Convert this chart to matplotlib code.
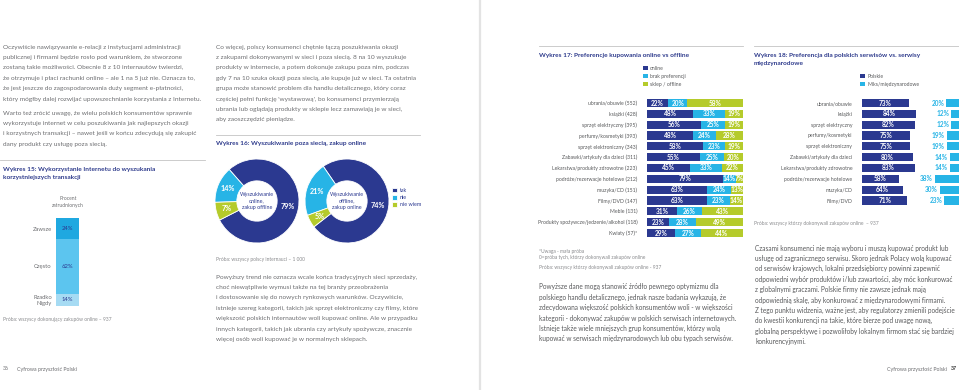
import numpy as np
import matplotlib
matplotlib.use("Agg")
import matplotlib.pyplot as plt

plt.rcParams['font.family'] = ['Lato', 'DejaVu Sans']

W, H = 959, 390
NAVY = "#2b3990"
CYAN = "#27b4e6"
GREEN = "#b5cb2b"
GREY = "#6d6e71"
TITLE = "#2e3b8c"

# ---- Wykres 15
w15_labels = ["Zawsze", "Często", "Rzadko\nNigdy"]
w15_values = [24, 62, 14]
w15_colors = ["#1fa8e0", "#5cc5ef", "#a6dbf3"]

# ---- Wykres 16
w16_labels = ["tak", "nie", "nie wiem"]
w16_online_offline = [79, 14, 7]
w16_offline_online = [74, 21, 5]

# ---- Wykres 17
w17_categories = [
    "ubrania/obuwie (552)", "książki (428)", "sprzęt elektryczny (395)",
    "perfumy/kosmetyki (393)", "sprzęt elektroniczny (343)",
    "Zabawki/artykuły dla dzieci (311)", "Lekarstwa/produkty zdrowotne (223)",
    "podróże/rezerwacje hotelowe (212)", "muzyka/CD (151)", "Filmy/DVD (147)",
    "Meble (131)", "Produkty spożywcze/jedzenie/alkohol (118)", "Kwiaty (57)*",
]
w17_online = [22, 48, 56, 48, 58, 55, 45, 79, 63, 63, 31, 23, 29]
w17_brak = [20, 33, 25, 24, 23, 25, 33, 14, 24, 23, 26, 28, 27]
w17_sklep = [58, 19, 19, 28, 19, 20, 22, 7, 13, 14, 43, 49, 44]
w17_series = ["online", "brak preferencji", "sklep / offline"]

# ---- Wykres 18
w18_categories = [
    "ubrania/obuwie", "książki", "sprzęt elektryczny", "perfumy/kosmetyki",
    "sprzęt elektroniczny", "Zabawki/artykuły dla dzieci",
    "Lekarstwa/produkty zdrowotne", "podróże/rezerwacje hotelowe",
    "muzyka/CD", "Filmy/DVD",
]
w18_polskie = [73, 84, 82, 75, 75, 80, 83, 58, 64, 71]
w18_miks = [20, 12, 12, 19, 19, 14, 14, 38, 30, 23]
w18_series = ["Polskie", "Miks/międzynarodowe"]

# ---- body text
col1_a = [
    "Oczywiście nawiązywanie e-relacji z instytucjami administracji",
    "publicznej i firmami będzie rosło pod warunkiem, że stworzone",
    "zostaną takie możliwości. Obecnie 8 z 10 internautów twierdzi,",
    "że otrzymuje i płaci rachunki online – ale 1 na 5 już nie. Oznacza to,",
    "że jest jeszcze do zagospodarowania duży segment e-płatności,",
    "który mógłby dalej rozwijać upowszechnianie korzystania z Internetu.",
]
col1_b = [
    "Warto też zrócić uwagę, że wielu polskich konsumentów sprawnie",
    "wykorzystuje internet w celu poszukiwania jak najlepszych okazji",
    "i korzystnych transakcji – nawet jeśli w końcu zdecydują się zakupić",
    "dany produkt czy usługę poza siecią.",
]
col2_a = [
    "Co więcej, polscy konsumenci chętnie łączą poszukiwania okazji",
    "z zakupami dokonywanymi w sieci i poza siecią. 8 na 10 wyszukuje",
    "produkty w internecie, a potem dokonuje zakupu poza nim, podczas",
    "gdy 7 na 10 szuka okazji poza siecią, ale kupuje już w sieci. Ta ostatnia",
    "grupa może stanowić problem dla handlu detalicznego, który coraz",
    "częściej pełni funkcję 'wystawową', bo konsumenci przymierzają",
    "ubrania lub oglądają produkty w sklepie lecz zamawiają je w sieci,",
    "aby zaoszczędzić pieniądze.",
]
col2_b = [
    "Powyższy trend nie oznacza wcale końca tradycyjnych sieci sprzedaży,",
    "choć niewątpliwie wymusi także na tej branży przeobrażenia",
    "i dostosowanie się do nowych rynkowych warunków. Oczywiście,",
    "istnieje szereg kategorii, takich jak sprzęt elektroniczny czy filmy, które",
    "większość polskich internautów woli kupować online. Ale w przypadku",
    "innych kategorii, takich jak ubrania czy artykuły spożywcze, znacznie",
    "więcej osób woli kupować je w normalnych sklepach.",
]
col3 = [
    "Powyższe dane mogą stanowić źródło pewnego optymizmu dla",
    "polskiego handlu detalicznego, jednak nasze badania wykazują, że",
    "zdecydowana większość polskich konsumentów woli - w większości",
    "kategorii - dokonywać zakupów w polskich serwisach internetowych.",
    "Istnieje także wiele mniejszych grup konsumentów, którzy wolą",
    "kupować w serwisach międzynarodowych lub obu typach serwisów.",
]
col4 = [
    "Czasami konsumenci nie mają wyboru i muszą kupować produkt lub",
    "usługę od zagranicznego serwisu. Skoro jednak Polacy wolą kupować",
    "od serwisów krajowych, lokalni przedsiębiorcy powinni zapewnić",
    "odpowiedni wybór produktów i/lub zawartości, aby móc konkurować",
    "z globalnymi graczami. Polskie firmy nie zawsze jednak mają",
    "odpowiednią skalę, aby konkurować z międzynarodowymi firmami.",
    "Z tego punktu widzenia, ważne jest, aby regulatorzy zmienili podejście",
    "do kwestii konkurencji na takie, które bierze pod uwagę nową,",
    "globalną perspektywę i pozwoliłoby lokalnym firmom stać się bardziej",
    "konkurencyjnymi.",
]


def frac(x0, y0, x1, y1):
    return [x0 / W, 1 - y1 / H, (x1 - x0) / W, (y1 - y0) / H]


fig = plt.figure(figsize=(W / 100, H / 100), dpi=100)
page = fig.add_axes([0, 0, 1, 1])
page.set_xlim(0, W)
page.set_ylim(H, 0)
page.axis("off")


def para(x, y0, lines, size=4.65, color=GREY, step=10.4):
    for i, s in enumerate(lines):
        page.text(x, y0 + i * step, s, fontsize=size, color=color, va="center")


def title(x, y, s):
    page.text(x, y, s, fontsize=4.65, color=TITLE, fontweight="bold", va="center")


def small(x, y, s):
    page.text(x, y, s, fontsize=3.5, color="#8a8b8e", va="center")


# gutter and rules
page.plot([480, 480], [0, H], color="#e3e3e3", lw=1.6)
for x0, x1, y in [(0, 205, 160), (216, 420, 135), (539, 743, 46), (754, 959, 46)]:
    page.plot([x0, x1], [y, y], color="#c4c4c4", lw=0.6)

para(3, 47, col1_a)
para(3, 113, col1_b)
para(216, 47, col2_a)
para(216, 277, col2_b)
para(539, 287, col3, size=4.7, color="#58595b")
para(755, 248, col4, size=4.7, color="#58595b")

# ---- Wykres 15
title(3, 169, "Wykres 15: Wykorzystanie Internetu do wyszukania")
title(3, 178, "korzystniejszych transakcji")
page.text(68, 198, "Procent", fontsize=3.6, color=GREY, ha="center", va="center")
page.text(68, 206, "zatrudnionych", fontsize=3.6, color=GREY, ha="center", va="center")
ax15 = fig.add_axes(frac(56, 218, 79, 306))
bottom = 0
centers = []
for v, c in zip(w15_values, w15_colors):
    ax15.bar(0, v, bottom=bottom, width=1, color=c)
    ax15.text(0, bottom + v / 2, f"{v}%", ha="center", va="center",
              fontsize=4.2, color=NAVY)
    centers.append(bottom + v / 2)
    bottom += v
ax15.set_xlim(-0.5, 0.5)
ax15.set_ylim(100, 0)
ax15.set_xticks([])
ax15.set_yticks(centers, w15_labels, fontsize=4.2, color=GREY)
ax15.tick_params(length=0, pad=3)
for s in ax15.spines.values():
    s.set_visible(False)
small(3, 319, "Próba: wszyscy dokonujący zakupów online – 937")

# ---- Wykres 16
title(216, 143, "Wykres 16: Wyszukiwanie poza siecią, zakup online")
donuts = [
    (257, w16_online_offline, 207, "Wyszukiwanie\nonline,\nzakup offline"),
    (347, w16_offline_online, 218, "Wyszukiwanie\noffline,\nzakup online"),
]
wedges = None
for cx, vals, start, center in donuts:
    ax = fig.add_axes(frac(cx - 42, 201 - 42, cx + 42, 201 + 42))
    w, _, _ = ax.pie(vals, colors=[NAVY, CYAN, GREEN], startangle=start,
                     counterclock=True, radius=1,
                     wedgeprops=dict(width=0.52, edgecolor="white", linewidth=0.6),
                     autopct=lambda p: f"{p:.0f}%", pctdistance=0.75,
                     textprops=dict(color="white", fontsize=5.2, fontweight="bold"))
    ax.text(0, 0, center, ha="center", va="center", fontsize=3.9,
            color=NAVY, linespacing=1.3)
    ax.set_xlim(-1, 1)
    ax.set_ylim(-1, 1)
    wedges = wedges or w
fig.legend(wedges, w16_labels, loc="upper left",
           bbox_to_anchor=(392 / W, 1 - 188 / H), frameon=False, fontsize=3.9,
           handlelength=0.9, handleheight=0.9, handletextpad=0.5,
           labelspacing=0.35, borderpad=0, borderaxespad=0, labelcolor=NAVY)
small(216, 259, "Próba: wszyscy polscy internauci – 1 000")

# ---- Wykres 17
title(539, 55, "Wykres 17: Preferencje kupowania online vs offline")
n17 = len(w17_categories)
step = (233 - 103) / (n17 - 1)
ax17 = fig.add_axes(frac(647, 103 - step / 2, 743, 233 + step / 2))
y17 = np.arange(n17)
left = np.zeros(n17)
handles17 = []
for vals, c in zip([w17_online, w17_brak, w17_sklep], [NAVY, CYAN, GREEN]):
    vals = np.array(vals)
    b = ax17.barh(y17, vals, left=left, height=0.74, color=c)
    handles17.append(b)
    for yi, l, v in zip(y17, left, vals):
        ax17.text(l + v / 2, yi, f"{v}%", ha="center", va="center",
                  fontsize=4.7, color="white", fontweight="bold")
    left = left + vals
ax17.set_xlim(0, 100)
ax17.set_ylim(n17 - 0.5, -0.5)
ax17.set_xticks([])
ax17.set_yticks(y17, w17_categories, fontsize=3.7, color="#58595b")
ax17.tick_params(length=0, pad=7)
for s in ax17.spines.values():
    s.set_visible(False)
fig.legend(handles17, w17_series, loc="upper left",
           bbox_to_anchor=(643 / W, 1 - 65.5 / H), frameon=False, fontsize=3.7,
           handlelength=0.9, handleheight=0.9, handletextpad=0.5,
           labelspacing=0.6, borderpad=0, borderaxespad=0, labelcolor="#58595b")
small(539, 251, "*Uwaga - mała próba")
small(539, 258, "0=próba tych, którzy dokonywali zakupów online")
small(539, 267, "Próba: wszyscy którzy dokonywali zakupów online - 937")

# ---- Wykres 18
title(754, 55, "Wykres 18: Preferencja dla polskich serwisów vs. serwisy")
title(754, 64, "międzynarodowe")
n18 = len(w18_categories)
ax18 = fig.add_axes(frac(862, 103 - step / 2, 959, 103 + (n18 - 1) * step + step / 2))
y18 = np.arange(n18)
full = 151.5
pl = ax18.barh(y18, w18_polskie, height=0.74, color=NAVY)
mx = ax18.barh(y18, w18_miks, left=full - np.array(w18_miks), height=0.74, color=CYAN)
for yi, p, m in zip(y18, w18_polskie, w18_miks):
    ax18.text(p / 2, yi, f"{p}%", ha="center", va="center", fontsize=4.7,
              color="white", fontweight="bold")
    ax18.text(full - m - 3, yi, f"{m}%", ha="right", va="center", fontsize=4.7,
              color=CYAN, fontweight="bold")
ax18.set_xlim(0, full)
ax18.set_ylim(n18 - 0.5, -0.5)
ax18.set_xticks([])
ax18.set_yticks(y18, w18_categories, fontsize=3.7, color="#58595b")
ax18.tick_params(length=0, pad=7)
for s in ax18.spines.values():
    s.set_visible(False)
fig.legend([pl, mx], w18_series, loc="upper left",
           bbox_to_anchor=(860 / W, 1 - 73.5 / H), frameon=False, fontsize=3.7,
           handlelength=0.9, handleheight=0.9, handletextpad=0.5,
           labelspacing=0.6, borderpad=0, borderaxespad=0, labelcolor="#58595b")
small(754, 223, "Próba: wszyscy którzy dokonywali zakupów online  – 937")

# footers
page.text(3, 369, "36", fontsize=3.8, color=GREY, va="center")
page.text(17, 369, "Cyfrowa przyszłość Polski", fontsize=3.8, color=GREY, va="center")
page.text(957, 369, "37", fontsize=3.8, color="#333333", fontweight="bold",
          ha="right", va="center")
page.text(947, 369, "Cyfrowa przyszłość Polski", fontsize=3.8, color=GREY,
          ha="right", va="center")

fig.savefig("out.png", dpi=100)
